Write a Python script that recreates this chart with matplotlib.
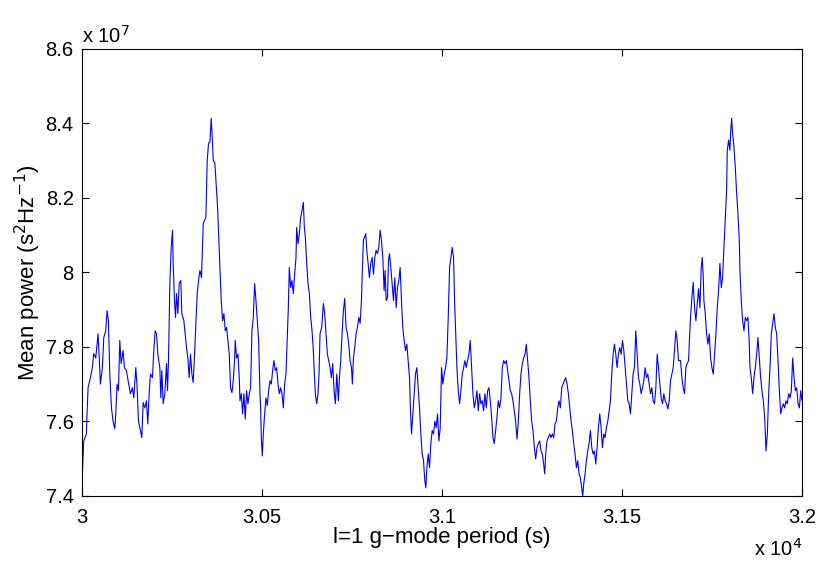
import matplotlib
matplotlib.use("Agg")
import matplotlib.pyplot as plt
import numpy as np

plt.rcParams["font.family"] = ["Liberation Sans", "DejaVu Sans"]

# l=1 g-mode period (s) and mean power (units of 1e7 s^2/Hz)
period = np.array([
    30001.0, 30004.7, 30012.1, 30014.0, 30016.8, 30023.3, 30028.8, 30032.5, 30038.1, 30044.6,
    30047.4, 30051.1, 30056.6, 30060.4, 30065.9, 30069.6, 30073.3, 30077.1, 30081.7, 30086.3,
    30091.0, 30093.7, 30097.4, 30101.2, 30104.9, 30108.6, 30114.1, 30117.8, 30123.4, 30128.0,
    30134.5, 30140.1, 30143.8, 30149.4, 30153.1, 30156.8, 30162.4, 30166.1, 30169.8, 30174.4,
    30179.0, 30182.7, 30186.5, 30190.2, 30195.7, 30199.4, 30203.2, 30206.9, 30210.6, 30216.1,
    30218.9, 30221.7, 30225.4, 30230.0, 30234.7, 30237.5, 30240.2, 30244.0, 30247.7, 30251.4,
    30253.2, 30256.9, 30259.7, 30262.5, 30266.2, 30269.9, 30274.5, 30277.3, 30282.9, 30286.6,
    30290.3, 30294.0, 30297.7, 30301.4, 30305.1, 30308.8, 30312.6, 30316.3, 30320.0, 30323.7,
    30327.4, 30332.0, 30336.7, 30344.1, 30347.8, 30351.5, 30355.2, 30358.9, 30361.7, 30364.5,
    30369.1, 30373.8, 30376.5, 30379.3, 30383.0, 30386.7, 30390.5, 30394.2, 30397.9, 30401.6,
    30405.3, 30409.0, 30412.7, 30416.4, 30420.1, 30423.8, 30425.7, 30429.4, 30433.1, 30436.8,
    30438.7, 30442.4, 30446.1, 30449.8, 30453.5, 30457.2, 30460.9, 30464.6, 30468.3, 30472.0,
    30475.8, 30479.5, 30483.2, 30486.9, 30490.6, 30494.3, 30496.2, 30498.0, 30500.8, 30503.6,
    30507.3, 30511.0, 30514.7, 30518.4, 30522.1, 30525.8, 30529.5, 30533.2, 30536.9, 30540.7,
    30544.4, 30548.1, 30551.8, 30555.5, 30559.2, 30562.9, 30566.6, 30570.3, 30573.1, 30575.9,
    30579.6, 30583.3, 30587.0, 30590.7, 30594.4, 30596.3, 30600.0, 30603.7, 30607.4, 30611.1,
    30614.8, 30617.6, 30620.4, 30624.1, 30627.8, 30631.5, 30635.2, 30638.9, 30642.6, 30645.4,
    30648.2, 30651.9, 30655.6, 30658.4,
    30661.2, 30665.8, 30670.5, 30674.2, 30677.9, 30681.6, 30685.3, 30689.0, 30692.7, 30696.4,
    30700.1, 30703.9, 30707.6, 30712.2, 30715.0, 30718.7, 30722.4, 30726.1, 30729.8, 30733.5,
    30737.2, 30740.9, 30744.6, 30748.4, 30751.1, 30753.9, 30757.6, 30761.3, 30765.0, 30768.8,
    30772.5, 30776.2, 30779.0, 30781.7, 30784.5, 30788.2, 30791.0, 30794.7, 30798.4, 30802.1,
    30805.8, 30809.6, 30813.3, 30817.0, 30820.7, 30824.4, 30828.1, 30831.8, 30835.5, 30839.2,
    30842.0, 30844.8, 30848.5, 30851.3, 30854.1, 30857.8, 30861.5, 30865.2, 30868.9, 30872.6,
    30876.3, 30880.0, 30883.7, 30887.4, 30891.1, 30894.9, 30898.6, 30902.3, 30906.0, 30909.7,
    30912.5, 30915.3, 30919.0, 30922.7, 30926.4, 30930.1, 30933.8, 30937.5, 30941.2, 30944.9,
    30948.6, 30952.3, 30955.1, 30957.9, 30961.6, 30965.3, 30969.0, 30972.7, 30976.4, 30980.2,
    30983.9, 30987.6, 30991.3,
    30995.0, 30998.7, 31002.4, 31006.1, 31009.8, 31013.5, 31017.3, 31021.0, 31024.7, 31028.4,
    31032.1, 31034.9, 31037.7, 31041.4, 31045.1, 31048.8, 31052.5, 31056.2, 31059.9, 31063.6,
    31067.3, 31071.0, 31074.7, 31078.4, 31082.2, 31085.9, 31089.6, 31093.3, 31097.0, 31100.7,
    31104.4, 31108.1, 31111.8, 31115.5, 31119.2, 31123.0, 31126.7, 31130.4, 31134.1, 31137.8,
    31141.5, 31145.2, 31148.9, 31152.6, 31156.3, 31160.0, 31163.8, 31167.5, 31171.2, 31174.9,
    31178.6, 31182.3, 31186.0, 31189.7, 31193.4, 31197.1, 31200.8, 31204.5, 31208.3, 31212.0,
    31215.7, 31219.4, 31223.1, 31226.8, 31230.5, 31234.2, 31237.9, 31241.6, 31245.3, 31249.1,
    31252.8, 31256.5, 31260.2, 31263.9, 31267.6, 31271.3, 31275.0, 31278.7, 31282.4, 31285.2,
    31288.0, 31291.7, 31295.4, 31299.1, 31302.8, 31306.5, 31310.3, 31314.0, 31317.7, 31321.4,
    31325.1,
    31328.8, 31332.5, 31336.2, 31339.9, 31343.6, 31347.3, 31351.1, 31354.8, 31358.5, 31362.2,
    31365.9, 31369.6, 31373.3, 31377.0, 31380.7, 31384.4, 31388.1, 31390.9, 31393.7, 31397.4,
    31401.1, 31404.8, 31408.5, 31412.2, 31416.0, 31419.7, 31423.4, 31427.1, 31430.8, 31434.5,
    31438.2, 31441.9, 31445.6, 31449.3, 31453.0, 31456.8, 31460.5, 31464.2, 31467.9, 31471.6,
    31475.3, 31479.0, 31482.7, 31486.4, 31490.1, 31493.8, 31497.6, 31501.3, 31505.0, 31508.7,
    31512.4, 31516.1, 31519.8, 31523.5, 31527.2, 31530.9, 31534.6, 31538.3, 31542.1, 31545.8,
    31549.5, 31553.2, 31556.9, 31560.6, 31564.3, 31568.0, 31571.7, 31575.4, 31579.1, 31582.9,
    31586.6, 31590.3, 31594.0, 31597.7, 31601.4, 31605.1, 31608.8, 31612.5, 31616.2, 31619.9,
    31623.6, 31627.4, 31631.1, 31634.8, 31638.5, 31642.2, 31645.9, 31649.6, 31653.3, 31657.0,
    31662.6, 31666.3, 31670.0, 31673.7, 31677.4, 31681.1, 31684.9, 31686.7, 31690.4, 31694.1,
    31697.8, 31701.5, 31705.3, 31709.0, 31712.7, 31716.4, 31720.1, 31722.9, 31725.7, 31727.5,
    31731.2, 31734.9, 31738.6, 31742.3, 31746.1, 31749.8, 31753.5, 31757.2, 31760.9, 31764.6,
    31768.3, 31772.0, 31775.7, 31779.4, 31783.1, 31786.8, 31790.6, 31792.4, 31796.1, 31799.8,
    31801.7, 31804.5, 31807.2, 31811.0, 31814.7, 31818.4, 31822.1, 31825.8, 31827.6, 31831.4,
    31835.1, 31838.8, 31842.5, 31846.2, 31849.9, 31853.6, 31855.5, 31859.2, 31862.9, 31866.6,
    31870.3, 31874.0, 31877.7, 31881.4, 31885.1, 31888.8, 31892.5, 31896.3, 31900.0, 31903.7,
    31907.4, 31911.1, 31914.8, 31918.5, 31922.2, 31925.9, 31929.6, 31933.4, 31937.1, 31940.8,
    31944.5, 31948.2, 31951.9, 31955.6, 31959.3, 31963.0, 31966.7, 31970.4, 31974.1, 31977.9,
    31981.6, 31985.3, 31989.0, 31992.7, 31996.4, 32000.0,
])

power = np.array([
    7.459, 7.547, 7.566, 7.620, 7.690, 7.717, 7.744, 7.782, 7.770, 7.835,
    7.780, 7.700, 7.744, 7.825, 7.843, 7.897, 7.870, 7.727, 7.636, 7.600,
    7.580, 7.620, 7.700, 7.682, 7.817, 7.755, 7.790, 7.744, 7.736, 7.709,
    7.674, 7.690, 7.663, 7.744, 7.690, 7.600, 7.575, 7.556, 7.650, 7.636,
    7.655, 7.593, 7.674, 7.727, 7.717, 7.790, 7.843, 7.835, 7.780, 7.744,
    7.663, 7.736, 7.647, 7.674, 7.755, 7.682, 7.763, 7.970, 8.067, 8.113,
    8.024, 7.924, 7.879, 7.943, 7.889, 7.970, 7.978, 7.889, 7.870, 7.835,
    7.798, 7.770, 7.717, 7.780, 7.727, 7.704, 7.780, 7.863, 7.943, 7.978,
    8.005, 7.986, 8.131, 8.148, 8.301, 8.347, 8.350, 8.414, 8.363, 8.301,
    8.293, 8.220, 8.175, 8.104, 8.013, 7.924, 7.870, 7.889, 7.843, 7.852,
    7.817, 7.780, 7.690, 7.677, 7.709, 7.763, 7.817, 7.770, 7.780, 7.717,
    7.655, 7.674, 7.620, 7.674, 7.606, 7.682, 7.647, 7.674, 7.690, 7.843,
    7.879, 7.970, 7.924, 7.870, 7.817, 7.674, 7.636, 7.556, 7.507, 7.566,
    7.620, 7.663, 7.642, 7.682, 7.709, 7.700, 7.736, 7.763, 7.736, 7.744,
    7.700, 7.674, 7.690, 7.674, 7.636, 7.700, 7.727, 7.825, 7.905, 8.013,
    7.959, 7.978, 7.943, 7.995, 8.040, 8.121, 8.077, 8.104, 8.148, 8.166,
    8.188, 8.121, 8.094, 8.024, 7.970, 7.943, 7.879, 7.843, 7.790, 7.727,
    7.674, 7.647, 7.674, 7.727,
    7.835, 7.852, 7.916, 7.889, 7.835, 7.780, 7.763, 7.744, 7.717, 7.755,
    7.682, 7.647, 7.727, 7.655, 7.717, 7.763, 7.835, 7.897, 7.930, 7.852,
    7.835, 7.807, 7.763, 7.744, 7.700, 7.770, 7.798, 7.835, 7.852, 7.879,
    7.863, 7.924, 8.013, 8.086, 8.094, 8.104, 8.059, 8.024, 7.986, 8.024,
    8.040, 7.995, 8.040, 8.059, 8.050, 8.067, 8.113, 8.086, 8.040, 7.951,
    8.005, 7.924, 7.932, 8.032, 8.050, 8.013, 7.970, 7.924, 7.986, 7.905,
    7.959, 7.978, 8.013, 7.924, 7.852, 7.817, 7.790, 7.807, 7.763, 7.717,
    7.628, 7.566, 7.620, 7.674, 7.727, 7.744, 7.690, 7.636, 7.566, 7.512,
    7.494, 7.440, 7.421, 7.475, 7.512, 7.475, 7.540, 7.575, 7.566, 7.600,
    7.583, 7.620, 7.547,
    7.583, 7.744, 7.700, 7.727, 7.744, 7.770, 7.879, 8.013, 8.040, 8.067,
    8.040, 7.924, 7.843, 7.744, 7.682, 7.647, 7.682, 7.727, 7.744, 7.763,
    7.744, 7.763, 7.780, 7.817, 7.744, 7.674, 7.636, 7.655, 7.682, 7.628,
    7.674, 7.647, 7.655, 7.628, 7.674, 7.636, 7.682, 7.690, 7.655, 7.610,
    7.556, 7.540, 7.575, 7.610, 7.655, 7.636, 7.663, 7.744, 7.763, 7.755,
    7.763, 7.736, 7.709, 7.682, 7.674, 7.655, 7.628, 7.600, 7.552, 7.600,
    7.674, 7.727, 7.755, 7.770, 7.780, 7.807, 7.763, 7.717, 7.655, 7.600,
    7.575, 7.529, 7.499, 7.529, 7.540, 7.547, 7.520, 7.512, 7.485, 7.459,
    7.512, 7.547, 7.556, 7.566, 7.556, 7.566, 7.556, 7.593, 7.600, 7.636,
    7.655,
    7.636, 7.690, 7.700, 7.709, 7.717, 7.700, 7.674, 7.636, 7.600, 7.575,
    7.540, 7.512, 7.475, 7.494, 7.459, 7.448, 7.421, 7.400, 7.432, 7.459,
    7.494, 7.520, 7.540, 7.575, 7.529, 7.512, 7.520, 7.485, 7.529, 7.583,
    7.620, 7.583, 7.529, 7.566, 7.556, 7.583, 7.600, 7.628, 7.655, 7.727,
    7.780, 7.807, 7.780, 7.744, 7.780, 7.798, 7.780, 7.817, 7.790, 7.744,
    7.700, 7.655, 7.647, 7.620, 7.674, 7.727, 7.744, 7.843, 7.780, 7.717,
    7.700, 7.674, 7.690, 7.709, 7.744, 7.717, 7.727, 7.700, 7.674, 7.690,
    7.655, 7.647, 7.690, 7.780, 7.744, 7.700, 7.663, 7.647, 7.674, 7.655,
    7.647, 7.633, 7.655, 7.709, 7.727, 7.744, 7.790, 7.843, 7.817, 7.763,
    7.763, 7.717, 7.690, 7.674, 7.744, 7.755, 7.763, 7.807, 7.879, 7.932,
    7.973, 7.905, 7.870, 7.916, 7.956, 7.905, 8.013, 8.040, 7.986, 7.924,
    7.889, 7.835, 7.807, 7.835, 7.770, 7.744, 7.727, 7.780, 7.835, 7.905,
    7.951, 8.024, 7.959, 7.986, 8.067, 8.140, 8.220, 8.328, 8.355, 8.328,
    8.374, 8.414, 8.374, 8.336, 8.283, 8.212, 8.158, 8.086, 8.005, 7.924,
    7.870, 7.843, 7.879, 7.870, 7.879, 7.807, 7.744, 7.717, 7.674, 7.717,
    7.744, 7.780, 7.825, 7.770, 7.717, 7.682, 7.655, 7.610, 7.520, 7.566,
    7.674, 7.744, 7.835, 7.863, 7.889, 7.852, 7.835, 7.763, 7.682, 7.620,
    7.636, 7.647, 7.636, 7.655, 7.647, 7.674, 7.663, 7.682, 7.770, 7.717,
    7.682, 7.690, 7.647, 7.636, 7.682, 7.655,
])

xticks = [3.0, 3.05, 3.1, 3.15, 3.2]
xticklabels = ["3", "3.05", "3.1", "3.15", "3.2"]
yticks = [7.4, 7.6, 7.8, 8.0, 8.2, 8.4, 8.6]
yticklabels = ["7.4", "7.6", "7.8", "8", "8.2", "8.4", "8.6"]

fig = plt.figure(figsize=(8.31, 5.73), dpi=100)
ax = fig.add_axes([0.0987, 0.1349, 0.8664, 0.7796])

ax.plot(period / 1e4, power, color=(0, 0, 1), lw=0.8)

ax.set_xlim(3.0, 3.2)
ax.set_ylim(7.4, 8.6)
ax.set_xticks(xticks)
ax.set_xticklabels(xticklabels)
ax.set_yticks(yticks)
ax.set_yticklabels(yticklabels)
ax.tick_params(direction="in", top=True, right=True, length=5, width=0.8,
               labelsize=14.5)
ax.tick_params(axis="x", pad=9)
ax.tick_params(axis="y", pad=6)
for s in ax.spines.values():
    s.set_linewidth(0.8)

ax.set_xlabel("l=1 g\u2212mode period (s)", fontsize=16, labelpad=0)
ax.set_ylabel("Mean power (s$^2$Hz$^{-1}$)", fontsize=16, labelpad=2)

ax.text(0.0, 1.005, "x 10$^7$", transform=ax.transAxes, fontsize=14.5,
        ha="left", va="bottom")
ax.text(1.0, -0.095, "x 10$^4$", transform=ax.transAxes, fontsize=14.5,
        ha="right", va="top")

fig.savefig("out.png", dpi=100)
